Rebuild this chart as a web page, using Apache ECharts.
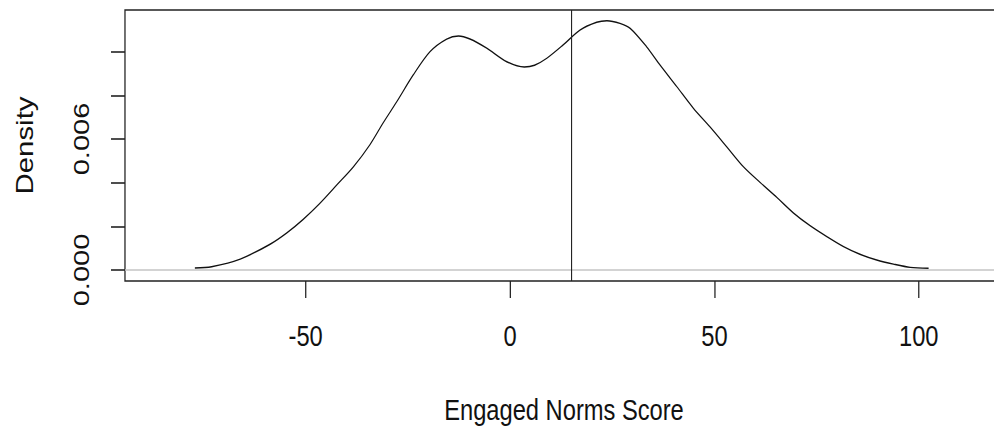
<!DOCTYPE html>
<html>
<head>
<meta charset="utf-8">
<script src="https://cdn.jsdelivr.net/npm/echarts@6/dist/echarts.min.js"></script>
<style>
html,body{margin:0;padding:0;background:#fff;overflow:hidden;}
#wrap{width:994px;height:430px;overflow:hidden;position:relative;}
#chart{width:1290px;height:430px;transform:scaleX(0.79);transform-origin:0 0;}
</style>
</head>
<body>
<div id="wrap"><div id="chart"></div></div>
<script>
// Density curve (x = Engaged Norms Score, y = Density)
const densityX = [-77.1, -73, -66, -58.7, -54.6, -50.6, -46.5, -42.4, -38.3, -34.3, -31, -27.7, -23.7, -19.6, -15.5, -12.6, -9.8, -5.7, -0.8, 3.5, 6, 9, 13, 17.1, 21.2, 23.7, 26.9, 29.4, 33.4, 36.7, 40.8, 44.9, 48.9, 53, 57.1, 61.2, 65.3, 69.3, 73.4, 77.5, 81.6, 85.6, 89.7, 93.8, 97.9, 102.4];
const densityY = [0.00009, 0.00015, 0.0005, 0.00118, 0.0017, 0.00232, 0.00306, 0.00389, 0.00473, 0.00573, 0.00675, 0.00771, 0.00893, 0.0100, 0.01058, 0.01072, 0.01058, 0.01016, 0.00954, 0.0093, 0.00938, 0.0097, 0.01031, 0.01099, 0.01135, 0.01142, 0.0113, 0.01107, 0.01023, 0.00939, 0.0084, 0.0074, 0.00656, 0.00565, 0.00473, 0.00401, 0.00332, 0.00262, 0.00203, 0.00153, 0.00107, 0.00072, 0.00046, 0.00027, 0.00012, 0.00008];

// Axis ticks and labels
const xTickValues = [-50, 0, 50, 100];
const yTickValues = [0, 0.002, 0.004, 0.006, 0.008, 0.010];
const yLabelValues = [0, 0.006];

// Reference lines
const verticalLineX = 15;
const zeroLineY = 0;

const xAxisTitle = 'Engaged Norms Score';
const yAxisTitle = 'Density';

const chart = echarts.init(document.getElementById('chart'), null, { renderer: 'svg' });
const font = "'Liberation Sans', Arial, sans-serif";

chart.setOption({
  animation: false,
  backgroundColor: '#fff',
  grid: {
    left: 158.2, top: 10, right: 20.4, bottom: 149,
    show: true, borderColor: '#222', borderWidth: 1.6, backgroundColor: 'transparent'
  },
  xAxis: {
    type: 'value',
    min: -94.2, max: 120.6,
    axisLine: { show: false, onZero: false },
    splitLine: { show: false },
    axisTick: { show: true, length: 17, customValues: xTickValues, lineStyle: { color: '#222', width: 1.6 } },
    axisLabel: {
      customValues: xTickValues, margin: 40,
      color: '#111', fontSize: 30, fontFamily: font,
      formatter: v => String(v)
    },
    name: xAxisTitle, nameLocation: 'middle', nameGap: 114,
    nameTextStyle: { color: '#111', fontSize: 30, fontFamily: font }
  },
  yAxis: {
    type: 'value',
    min: -0.000504, max: 0.01191,
    axisLine: { show: false, onZero: false },
    splitLine: { show: false },
    axisTick: { show: true, length: 17.7, customValues: yTickValues, lineStyle: { color: '#222', width: 1.6 } },
    axisLabel: {
      customValues: yLabelValues, margin: 41, rotate: 90,
      color: '#111', fontSize: 29, fontFamily: font,
      formatter: v => v.toFixed(3)
    },
    name: yAxisTitle, nameLocation: 'middle', nameGap: 112, nameRotate: 90,
    nameTextStyle: { color: '#111', fontSize: 29.4, fontFamily: font }
  },
  series: [{
    type: 'line',
    data: densityX.map((x, i) => [x, densityY[i]]),
    showSymbol: false,
    smooth: 0.3,
    lineStyle: { color: '#111', width: 1.4 },
    z: 3,
    markLine: {
      silent: true,
      symbol: 'none',
      label: { show: false },
      animation: false,
      data: [
        { yAxis: zeroLineY, lineStyle: { color: '#c4c4c4', width: 1.6, type: 'solid' } },
        { xAxis: verticalLineX, lineStyle: { color: '#222', width: 1.4, type: 'solid' } }
      ]
    }
  }]
});
</script>
</body>
</html>
